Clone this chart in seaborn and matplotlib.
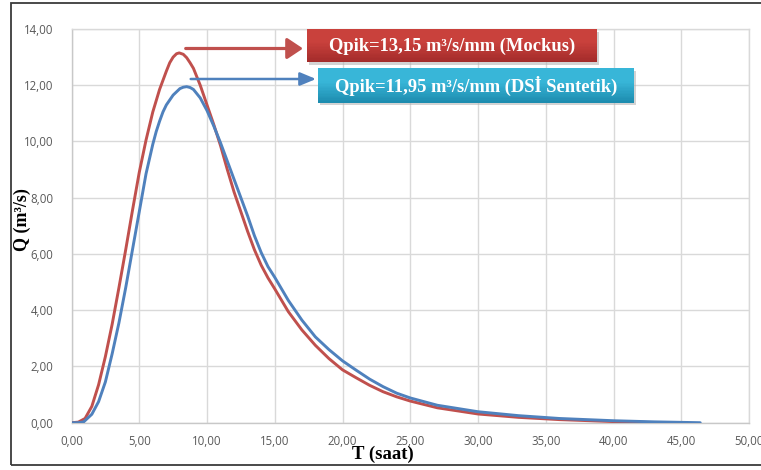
import matplotlib
matplotlib.use("Agg")
import matplotlib.pyplot as plt
import seaborn as sns
import pandas as pd
from matplotlib.patches import Rectangle, FancyArrowPatch
from matplotlib.ticker import FuncFormatter, MultipleLocator
from matplotlib.colors import to_rgb

# ---- data ----
t_mockus = [0, 0.5, 1.0, 1.5, 2.0, 2.5, 3.0, 3.5, 4.0, 4.5, 5.0, 5.5, 6.0, 6.5, 7.0, 7.25, 7.5,
            7.75, 7.95, 8.25, 8.5, 8.75, 9.0, 9.5, 10.0, 10.5, 11.0, 11.5, 12.0, 12.5, 13.0,
            13.5, 14.0, 14.5, 15.0, 16.0, 17.0, 18.0, 19.0, 20.0, 21.0, 22.0, 23.0, 24.0,
            25.0, 27.0, 30.0, 33.0, 36.0, 40.0, 43.2]
q_mockus = [0, 0.02, 0.15, 0.58, 1.35, 2.35, 3.5, 4.8, 6.15, 7.55, 8.9, 10.05, 11.05, 11.85, 12.5,
            12.8, 13.0, 13.12, 13.15, 13.1, 12.98, 12.8, 12.6, 12.0, 11.3, 10.6, 9.85, 9.0,
            8.2, 7.5, 6.8, 6.15, 5.6, 5.15, 4.76, 3.95, 3.3, 2.75, 2.28, 1.88, 1.6, 1.33, 1.1,
            0.92, 0.77, 0.53, 0.31, 0.19, 0.11, 0.04, 0.0]

t_dsi = [0, 0.5, 0.9, 1.5, 2.0, 2.5, 3.0, 3.5, 4.0, 4.5, 5.0, 5.5, 6.0, 6.25, 6.5, 6.75, 7.0, 7.5,
         8.0, 8.25, 8.5, 8.75, 9.0, 9.5, 10.0, 10.5, 11.0, 11.5, 12.0, 12.5, 13.0, 13.5, 14.0,
         14.5, 15.0, 16.0, 17.0, 18.0, 19.0, 20.0, 21.0, 22.0, 23.0, 24.0, 25.0, 27.0, 30.0,
         33.0, 36.0, 40.0, 43.0, 46.4]
q_dsi = [0, 0.0, 0.03, 0.3, 0.75, 1.45, 2.45, 3.55, 4.8, 6.15, 7.5, 8.85, 9.9, 10.35, 10.72, 11.05,
         11.3, 11.65, 11.88, 11.93, 11.95, 11.92, 11.85, 11.55, 11.1, 10.55, 9.95, 9.3, 8.65,
         8.0, 7.35, 6.65, 6.05, 5.55, 5.17, 4.35, 3.65, 3.05, 2.6, 2.2, 1.87, 1.55, 1.28,
         1.05, 0.88, 0.62, 0.39, 0.25, 0.15, 0.07, 0.03, 0.0]

series_names = ["Mockus", "DSİ Sentetik"]
label_mockus = "Qpik=13,15 m³/s/mm (Mockus)"
label_dsi = "Qpik=11,95 m³/s/mm (DSİ Sentetik)"
x_label = "T (saat)"
y_label = "Q (m³/s)"

df = pd.concat([
    pd.DataFrame({"T": t_mockus, "Q": q_mockus, "seri": series_names[0]}),
    pd.DataFrame({"T": t_dsi, "Q": q_dsi, "seri": series_names[1]}),
], ignore_index=True)

RED = "#c0504d"
BLUE = "#4f81bd"

sns.set_style("white")
plt.rcParams["font.family"] = ["Open Sans", "DejaVu Sans"]

W, H = 761, 470
fig = plt.figure(figsize=(W / 100, H / 100), dpi=100)
ax = fig.add_axes([71.5 / W, 47.3 / H, 677.5 / W, 393.7 / H])

sns.lineplot(data=df, x="T", y="Q", hue="seri", palette={series_names[0]: RED, series_names[1]: BLUE},
             sort=False, linewidth=2.1, ax=ax, legend=False, zorder=3)
for ln in ax.lines:
    ln.set_solid_joinstyle("round")
    ln.set_solid_capstyle("round")

ax.set_xlim(0, 50)
ax.set_ylim(0, 14)
ax.xaxis.set_major_locator(MultipleLocator(5))
ax.yaxis.set_major_locator(MultipleLocator(2))
fmt = FuncFormatter(lambda v, p: f"{v:.2f}".replace(".", ","))
ax.xaxis.set_major_formatter(fmt)
ax.yaxis.set_major_formatter(fmt)
ax.grid(True, color="#d9d9d9", linewidth=1.0, zorder=0)
for s in ax.spines.values():
    s.set_color("#d9d9d9")
    s.set_linewidth(1.0)
ax.spines["left"].set_color("#c8c8c8")
ax.spines["bottom"].set_color("#c8c8c8")
ax.tick_params(axis="both", length=0, labelsize=8.3, labelcolor="#595959")
ax.tick_params(axis="x", pad=9)
ax.tick_params(axis="y", pad=13)

ax.set_xlabel(x_label, family=["Liberation Serif"], fontweight="bold", fontsize=13.5, color="black")
ax.set_ylabel(y_label, family=["Liberation Serif"], fontweight="bold", fontsize=13, color="black")
ax.xaxis.set_label_coords((382.5 - 71.5) / 677.5, (470 - 454 - 47.3) / 393.7)
ax.yaxis.set_label_coords((22 - 71.5) / 677.5, (470 - 220 - 47.3) / 393.7)
ax.xaxis.label.set_va("center")
ax.yaxis.label.set_va("center")

# ---- outer frame ----
fig.patches.append(Rectangle((11 / W, 5 / H), 780 / W, 462 / H, transform=fig.transFigure,
                             fill=False, edgecolor="#3a3a3a", linewidth=1.3, zorder=10))


def pbox(x0, y0, x1, y1, top, bottom, text, fs, n=24):
    # pixel coordinates measured from the top-left
    fy0 = (H - y1) / H
    h = (y1 - y0) / H
    fig.patches.append(Rectangle((x0 / W + 2 / W, fy0 - 2.5 / H), (x1 - x0) / W, h,
                                 transform=fig.transFigure, facecolor="#b0b0b0", edgecolor="none",
                                 alpha=0.55, zorder=11))
    ct, cb = to_rgb(top), to_rgb(bottom)
    for i in range(n):
        f = i / (n - 1)
        c = tuple(cb[k] + (ct[k] - cb[k]) * min(1.0, f * 1.6) for k in range(3))
        fig.patches.append(Rectangle((x0 / W, fy0 + h * i / n), (x1 - x0) / W, h / n * 1.05,
                                     transform=fig.transFigure, facecolor=c, edgecolor="none",
                                     zorder=12))
    fig.text((x0 + x1) / 2 / W, (H - (y0 + y1) / 2) / H - 0.5 / H, text, ha="center", va="center",
             color="white", fontsize=fs, fontweight="bold", family=["Liberation Serif"], zorder=13)


def parrow(x0, x1, y, color, lw, hw):
    fig.patches.append(FancyArrowPatch((x0 / W, (H - y) / H), (x1 / W, (H - y) / H),
                                       transform=fig.transFigure,
                                       arrowstyle=f"-|>,head_length=0.6,head_width={hw}",
                                       color=color, linewidth=lw, mutation_scale=16,
                                       shrinkA=0, shrinkB=0, zorder=12))


pbox(306.7, 29.3, 596.7, 62.3, "#c9413c", "#a32b2a", label_mockus, 13.3)
pbox(317.7, 68.3, 634.3, 102.7, "#38b6d8", "#1d8caf", label_dsi, 13.3)
parrow(185.7, 303, 48.5, RED, 2.3, 0.4)
parrow(190.7, 316, 79.0, BLUE, 1.8, 0.25)

fig.savefig("out.png", dpi=100)
